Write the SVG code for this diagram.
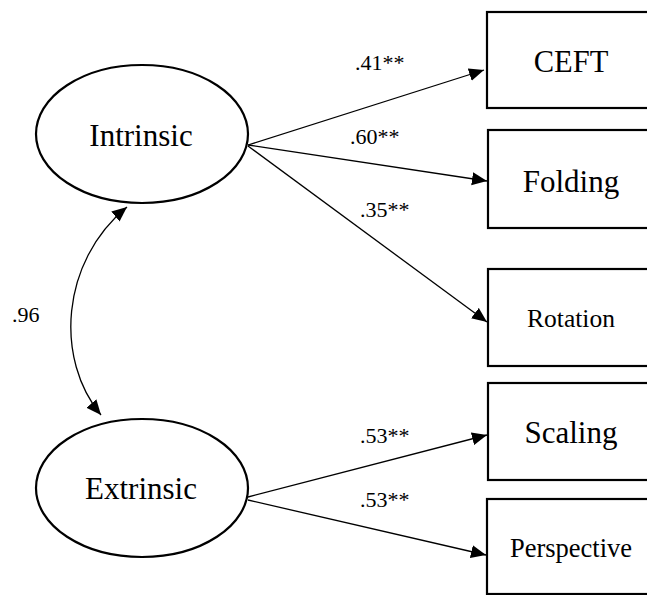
<svg xmlns="http://www.w3.org/2000/svg" width="647" height="595" viewBox="0 0 647 595">
  <style>
    .lat { fill: #fff; stroke: #000; stroke-width: 2.2; }
    .obs { fill: #fff; stroke: #000; stroke-width: 2.2; }
    text { font-family: "Liberation Serif", "Times New Roman", Tinos, "DejaVu Serif", "Noto Serif", Times, serif; fill: #000; }
    .t { text-anchor: middle; }
    .lbl { font-size: 22px; }
    .edge { fill: none; stroke: #000; stroke-width: 1.3; }
  </style>
  <defs>
    <marker id="ah" markerUnits="userSpaceOnUse" markerWidth="16" markerHeight="14" refX="15" refY="6.5" orient="auto-start-reverse" viewBox="0 0 16 13">
      <path d="M0,0 L15,6.5 L0,13 z" fill="#000"/>
    </marker>
  </defs>
  <rect width="647" height="595" fill="#fff"/>

  <g id="connectors">
    <path class="edge" d="M248,145 L484,70" marker-end="url(#ah)"/>
    <path class="edge" d="M248,145 L487,181" marker-end="url(#ah)"/>
    <path class="edge" d="M248,146 L487,322" marker-end="url(#ah)"/>
    <path class="edge" d="M248,497 L487,435" marker-end="url(#ah)"/>
    <path class="edge" d="M248,500 L486,555" marker-end="url(#ah)"/>
    <path class="edge" d="M127,207 C60,262 55,360 101,415" marker-start="url(#ah)" marker-end="url(#ah)"/>
    <text class="lbl" x="355" y="70">.41**</text>
    <text class="lbl" x="350" y="144">.60**</text>
    <text class="lbl" x="360" y="217">.35**</text>
    <text class="lbl" x="360" y="443">.53**</text>
    <text class="lbl" x="360" y="507">.53**</text>
    <text class="lbl" x="12" y="322">.96</text>
  </g>

  <g id="intrinsic">
    <ellipse class="lat" cx="142" cy="134" rx="106" ry="69"/>
    <text class="t" x="141" y="146" font-size="31">Intrinsic</text>
  </g>
  <g id="extrinsic">
    <ellipse class="lat" cx="142" cy="488" rx="106" ry="69"/>
    <text class="t" x="141" y="499" font-size="31">Extrinsic</text>
  </g>

  <g id="ceft">
    <rect class="obs" x="487" y="12" width="170" height="96"/>
    <text class="t" x="571" y="72" font-size="30.5">CEFT</text>
  </g>
  <g id="folding">
    <rect class="obs" x="488" y="130" width="170" height="98"/>
    <text class="t" x="571" y="192" font-size="31">Folding</text>
  </g>
  <g id="rotation">
    <rect class="obs" x="488" y="269" width="170" height="97"/>
    <text class="t" x="571" y="327" font-size="25.5">Rotation</text>
  </g>
  <g id="scaling">
    <rect class="obs" x="488" y="383" width="170" height="97"/>
    <text class="t" x="571" y="443" font-size="31">Scaling</text>
  </g>
  <g id="perspective">
    <rect class="obs" x="487" y="499" width="170" height="95"/>
    <text class="t" x="571" y="557" font-size="26.5">Perspective</text>
  </g>
</svg>
